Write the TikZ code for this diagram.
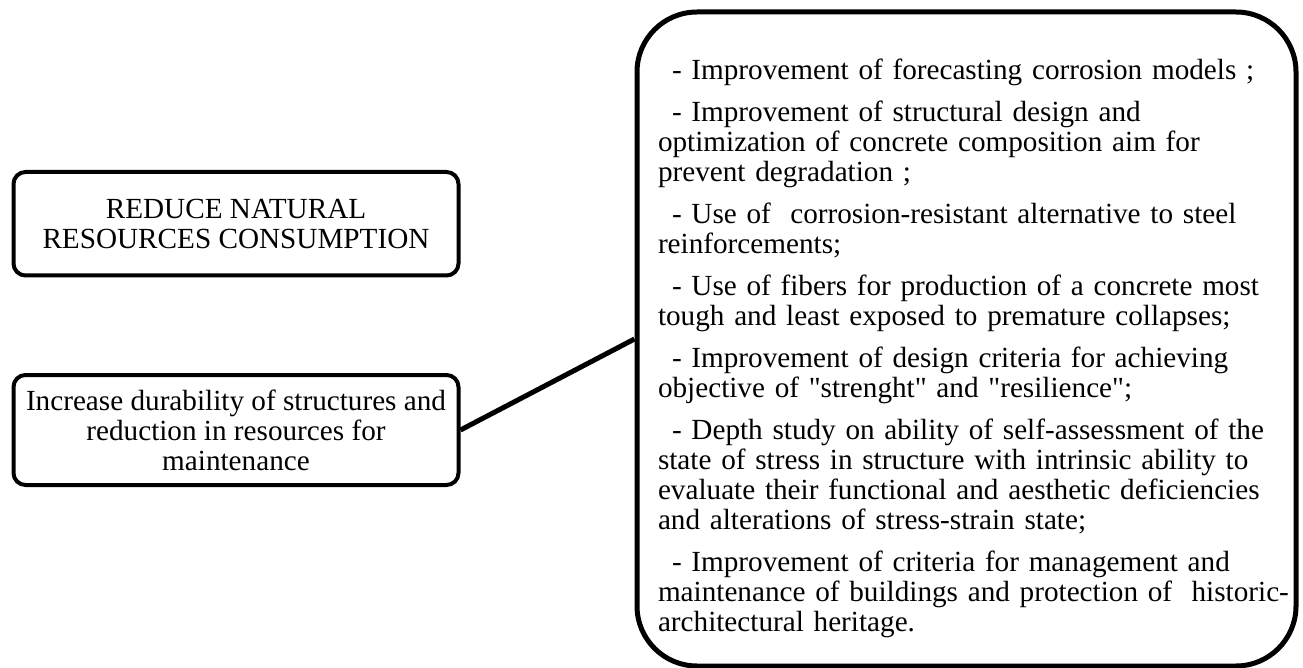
\documentclass[tikz,border=0pt]{standalone}
\usepackage{fontspec}
\setmainfont{Liberation Serif}[Ligatures=TeXOff]
\usetikzlibrary{positioning}
\tikzset{
    goalbox/.style={
        rectangle,
        rounded corners=12pt,
        draw=black, line width=4pt,
        minimum width=445pt,
        align=center,
        font=\fontsize{29.2}{30}\selectfont
    },
    measurebox/.style={
        rectangle,
        rounded corners=60pt,
        draw=black, line width=5pt,
        text width=617pt,
        inner xsep=21pt,
        minimum height=654pt,
        align=left,
        font=\fontsize{29.2}{30}\selectfont
    },
    link/.style={draw, line width=5pt}
}
\newcommand{\itemdash}{\hspace*{14pt}- }

\begin{document}
\begin{tikzpicture}[x=1pt, y=-1pt]
    \useasboundingbox (0,0) rectangle (1303,668);

    \node[goalbox, minimum height=103.5pt] (reduce) at (236,223.75)
        {REDUCE NATURAL\\RESOURCES CONSUMPTION};
    \node[goalbox, minimum height=110pt] (durability) at (236,430)
        {Increase durability of structures and\\reduction in resources for\\maintenance};

    \node[measurebox] (measures) at (966.5,339) {%
        \rule{0pt}{40pt}\itemdash Improvement of forecasting corrosion models ;\\[12pt]
        \itemdash Improvement of structural design and\\
        optimization of concrete composition aim for\\
        prevent degradation ;\\[12pt]
        \itemdash Use of\ \ corrosion-resistant alternative to steel\\
        reinforcements;\\[12pt]
        \itemdash Use of fibers for production of a concrete most\\
        tough and least exposed to premature collapses;\\[12pt]
        \itemdash Improvement of design criteria for achieving\\
        objective of "strenght" and "resilience";\\[12pt]
        \itemdash Depth study on ability of self-assessment of the\\
        state of stress in structure with intrinsic ability to\\
        evaluate their functional and aesthetic deficiencies\\
        and alterations of stress-strain state;\\[12pt]
        \itemdash Improvement of criteria for management and\\
        \mbox{maintenance of buildings and protection of\ \ historic-}\\
        architectural heritage.};

    \draw[link] (durability.east) -- (measures.west);

\end{tikzpicture}
\end{document}
